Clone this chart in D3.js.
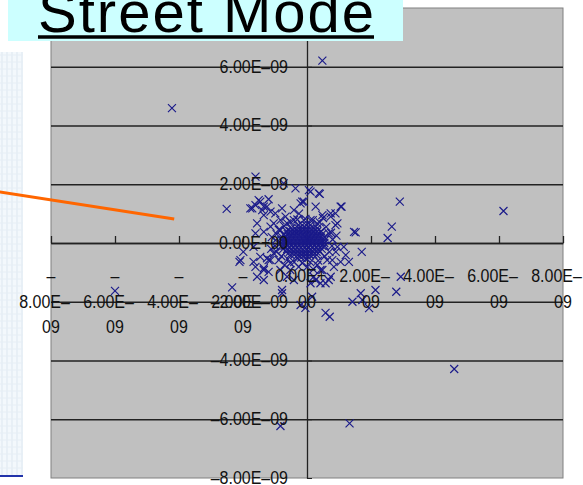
<!DOCTYPE html>
<html>
<head>
<meta charset="utf-8">
<script src="https://cdn.jsdelivr.net/npm/d3@7"></script>
<style>
    body { margin: 0; background: #fff; }
    svg { display: block; font-family: "Liberation Sans", Arial, sans-serif; }
</style>
</head>
<body>
<svg id="chart" width="583" height="485"></svg>
<script>
// values are in units of 1e-9
const UNIT = 1e-9;

const xTicks = [-8, -6, -4, -2, 0, 2, 4, 6, 8];
const yTicks = [-8, -6, -4, -2, 0, 2, 4, 6, 8];

// x tick labels as Excel wrapped them
const xTickLines = [
    ["–", "8.00E–", "09"],
    ["–", "6.00E–", "09"],
    ["–", "4.00E–", "09"],
    ["–", "2.00E–", "09"],
    ["0.00E+", "00"],
    ["2.00E–", "09"],
    ["4.00E–", "09"],
    ["6.00E–", "09"],
    ["8.00E–", "09"]
];
const yTickLabels = ["–8.00E–09", "–6.00E–09", "–4.00E–09", "–2.00E–09", "0.00E+00",
    "2.00E–09", "4.00E–09", "6.00E–09", "8.00E–09"];

// scattered points [x, y]
const outerPoints = [
    [-4.22, 4.59], [0.48, 6.21], [6.14, 1.09], [2.9, 1.41], [2.65, 0.56], [2.52, 0.17],
    [4.6, -4.29], [1.33, -6.14], [-0.83, -6.23], [-6.0, -1.63], [-2.34, -1.51],
    [-2.51, 1.16], [-1.61, 2.26], [-0.73, 2.03]
];
const haloPoints = [
    [1.71, -0.3], [1.31, -0.64], [2.93, -1.15], [2.79, -1.66], [2.14, -1.6], [1.68, -1.71],
    [1.42, -2.0], [1.94, -2.22], [1.73, -1.94], [0.71, -2.51], [0.58, -2.38], [0.68, -1.26],
    [0.42, -1.37], [-0.05, -2.21], [-0.2, -2.11], [0.16, -1.83],
    [-1.25, -0.52], [-2.11, -0.64], [-1.67, -0.64], [-1.35, -0.86], [-1.56, -1.15],
    [-1.35, -1.26], [-0.78, -1.71], [-1.99, -0.3], [-1.61, 0.33], [-0.83, -0.92], [-1.14, -0.58],
    [1.47, 0.38], [1.05, 1.24], [0.37, 1.69], [0.06, 1.8], [-0.36, 1.86], [-0.15, 1.41],
    [-1.77, 1.18], [-1.46, 1.41], [-1.14, 1.07], [-1.35, 1.24], [-0.67, 0.9], [-1.04, 0.67],
    [-0.83, 0.44], [0.74, 0.9], [0.95, 0.67], [1.15, -0.13], [1.21, -0.41], [-2.08, -0.58],
    [-1.61, -0.81], [-1.35, -0.92], [-1.2, -0.58], [0.84, -0.81], [1.05, -0.64], [0.42, -0.92],
    [0.11, -1.37], [0.21, -1.15], [-0.41, -1.26], [-0.52, -0.92],
    [-1.71, 1.18], [-1.51, 1.46], [-1.2, 1.49], [-1.4, 1.12], [0.11, 1.75], [0.4, 1.67],
    [1.08, 1.24], [1.52, 0.36], [0.89, 1.01], [-0.1, 1.41],
    [-1.61, 1.29], [-1.25, 1.24], [-0.99, 1.01], [-1.35, 0.95], [-0.78, 1.18], [-0.41, 1.12],
    [-0.2, 1.35], [0.27, 1.24], [0.48, 0.95], [0.74, 1.01], [0.89, 0.61], [0.68, 0.33],
    [0.95, -0.13], [0.79, -0.58], [0.74, -1.15], [0.58, -1.37], [0.48, -0.92], [-0.26, -0.81],
    [-0.52, -0.69], [-0.88, -0.58], [-1.46, -0.47], [-1.2, -0.98], [-0.78, -1.6], [-0.62, -1.15],
    [-1.35, 0.38], [-1.14, 0.56], [-0.83, 0.78], [-1.56, 0.67], [-1.67, -0.13], [-1.04, -0.35],
    [0.11, 0.78], [-0.1, 0.78], [0.32, 0.67], [-0.41, 0.78], [-0.62, 0.67], [0.63, -0.58],
    [0.32, -0.75], [0.01, -0.81], [0.27, -1.26]
];
// ring just outside the solid core
const ringPoints = [
    [-0.95, 0.3], [-0.98, 0.1], [-1.0, -0.1], [-0.95, -0.3], [-0.8, -0.45], [-0.6, -0.55],
    [-0.4, -0.65], [-0.15, -0.68], [0.1, -0.65], [0.35, -0.6], [0.55, -0.45], [0.7, -0.3],
    [0.78, -0.1], [0.8, 0.12], [0.75, 0.35], [0.6, 0.55], [0.4, 0.7], [0.18, 0.78],
    [-0.05, 0.82], [-0.3, 0.8], [-0.52, 0.72], [-0.72, 0.58], [-0.88, 0.45], [-1.1, 0.2],
    [-1.12, -0.2], [0.92, 0.25], [0.9, -0.3], [-0.7, -0.75], [0.2, -0.9], [-0.25, 1.0], [0.5, 0.85]
];
// dense core near the origin, one row per y value
const coreRows = [
    { y: 0.6, xs: [-0.28, -0.15, -0.02, 0.1] },
    { y: 0.5, xs: [-0.5, -0.38, -0.26, -0.14, -0.02, 0.1, 0.22, 0.32] },
    { y: 0.4, xs: [-0.64, -0.52, -0.4, -0.28, -0.16, -0.04, 0.08, 0.2, 0.32, 0.44] },
    { y: 0.3, xs: [-0.72, -0.6, -0.48, -0.36, -0.24, -0.12, 0, 0.12, 0.24, 0.36, 0.48] },
    { y: 0.2, xs: [-0.78, -0.66, -0.54, -0.42, -0.3, -0.18, -0.06, 0.06, 0.18, 0.3, 0.42, 0.54] },
    { y: 0.1, xs: [-0.8, -0.7, -0.6, -0.48, -0.36, -0.24, -0.12, 0, 0.12, 0.24, 0.36, 0.48, 0.56] },
    { y: 0.0, xs: [-0.82, -0.66, -0.54, -0.42, -0.3, -0.18, -0.06, 0.06, 0.18, 0.3, 0.42, 0.54] },
    { y: -0.1, xs: [-0.8, -0.7, -0.6, -0.48, -0.36, -0.24, -0.12, 0, 0.12, 0.24, 0.36, 0.48, 0.55] },
    { y: -0.2, xs: [-0.74, -0.62, -0.5, -0.38, -0.26, -0.14, -0.02, 0.1, 0.22, 0.34, 0.46] },
    { y: -0.3, xs: [-0.66, -0.54, -0.42, -0.3, -0.18, -0.06, 0.06, 0.18, 0.3, 0.4] },
    { y: -0.4, xs: [-0.52, -0.4, -0.28, -0.16, -0.04, 0.08, 0.2, 0.3] },
    { y: -0.5, xs: [-0.3, -0.18, -0.06, 0.06] }
];

// orange pointer line (data coords), starts off the plot on the left
const pointerLine = [[-9.6, 1.74], [-4.15, 0.82]];

const titleText = "Street Mode";

// ---------------------------------------------------------------

const svg = d3.select("#chart");
const plot = { left: 51, right: 563, top: 8, bottom: 478 };

const x = d3.scaleLinear().domain([-8 * UNIT, 8 * UNIT]).range([plot.left, plot.right]);
const y = d3.scaleLinear().domain([-8 * UNIT, 8 * UNIT]).range([plot.bottom, plot.top]);

// faint slide background strip on the left
const strip = svg.append("g");
strip.append("rect").attr("x", 0).attr("y", 52).attr("width", 23).attr("height", 423)
    .attr("fill", "#f3f8fc");
d3.range(2, 23, 5).forEach(function(sx) {
    strip.append("line").attr("x1", sx).attr("x2", sx).attr("y1", 52).attr("y2", 475)
        .attr("stroke", "#dde7f0").attr("stroke-width", 1);
});
d3.range(55, 475, 7).forEach(function(sy) {
    strip.append("line").attr("x1", 0).attr("x2", 23).attr("y1", sy).attr("y2", sy)
        .attr("stroke", "#e6eef5").attr("stroke-width", 1);
});
strip.append("line").attr("x1", 0).attr("x2", 23).attr("y1", 476).attr("y2", 476)
    .attr("stroke", "#2233aa").attr("stroke-width", 2);

// plot area
svg.append("rect")
    .attr("x", plot.left).attr("y", plot.top)
    .attr("width", plot.right - plot.left).attr("height", plot.bottom - plot.top)
    .attr("fill", "#c0c0c0").attr("stroke", "#808080").attr("stroke-width", 1);

// horizontal gridlines
const grid = svg.append("g")
    .attr("transform", "translate(" + plot.left + ",0)")
    .call(d3.axisLeft(y).tickValues(yTicks.filter(d => Math.abs(d) < 8).map(d => d * UNIT))
        .tickSize(-(plot.right - plot.left)).tickFormat(""));
grid.select(".domain").remove();
grid.selectAll(".tick line").attr("stroke", "#222").attr("stroke-width", 1.6);

// y axis through x = 0
const yAxis = svg.append("g")
    .attr("transform", "translate(" + x(0) + ",0)")
    .call(d3.axisRight(y).tickValues(yTicks.map(d => d * UNIT)).tickSize(5).tickSizeOuter(0).tickFormat(""));
yAxis.select(".domain").attr("stroke", "#222").attr("stroke-width", 1.3);
yAxis.selectAll(".tick line").attr("stroke", "#222");

// x axis through y = 0, ticks pointing up
const xAxis = svg.append("g")
    .attr("transform", "translate(0," + y(0) + ")")
    .call(d3.axisTop(x).tickValues(xTicks.map(d => d * UNIT)).tickSize(7).tickSizeOuter(0).tickFormat(""));
xAxis.select(".domain").attr("stroke", "#222").attr("stroke-width", 1.6);
xAxis.selectAll(".tick line").attr("stroke", "#222").attr("stroke-width", 1.3);

// points
const points = outerPoints.concat(haloPoints, ringPoints);
coreRows.forEach(function(row) {
    row.xs.forEach(function(v) { points.push([v, row.y]); });
});
const cross = "M-4,-4L4,4M-4,4L4,-4";
svg.append("g").selectAll("path")
    .data(points)
    .enter()
    .append("path")
    .attr("d", cross)
    .attr("transform", d => "translate(" + x(d[0] * UNIT) + "," + y(d[1] * UNIT) + ")")
    .attr("fill", "none")
    .attr("stroke", "#1a1a8a")
    .attr("stroke-width", 1.15);

// y tick labels
svg.append("g").selectAll("text")
    .data(yTicks)
    .enter()
    .append("text")
    .attr("transform", d => "translate(" + (x(0) - 19) + "," + y(d * UNIT) + ") scale(1,1.12)")
    .attr("text-anchor", "end")
    .attr("dominant-baseline", "central")
    .attr("font-size", 16)
    .attr("fill", "#111")
    .text((d, i) => yTickLabels[i]);

// x tick labels, wrapped on several lines
const lineY = [276, 302, 327];
const xl = svg.append("g").selectAll("g")
    .data(xTicks)
    .enter()
    .append("g");
xl.each(function(d, i) {
    const g = d3.select(this);
    xTickLines[i].forEach(function(line, j) {
        const wide = line.indexOf("E") >= 0;
        g.append("text")
            .attr("transform", "translate(" + (x(d * UNIT) + (wide ? -6.5 : 0)) + "," + lineY[j] + ") scale(1,1.12)")
            .attr("text-anchor", "middle")
            .attr("dominant-baseline", "central")
            .attr("font-size", 16)
            .attr("fill", "#111")
            .text(line);
    });
});

// orange pointer
svg.append("line")
    .attr("x1", x(pointerLine[0][0] * UNIT)).attr("y1", y(pointerLine[0][1] * UNIT))
    .attr("x2", x(pointerLine[1][0] * UNIT)).attr("y2", y(pointerLine[1][1] * UNIT))
    .attr("stroke", "#ff6600").attr("stroke-width", 3);

// title box
svg.append("rect").attr("x", 8).attr("y", 0).attr("width", 395).attr("height", 41)
    .attr("fill", "#ccffff");
svg.append("text")
    .attr("x", 38).attr("y", 32)
    .attr("font-size", 58)
    .attr("textLength", 336)
    .attr("lengthAdjust", "spacing")
    .attr("fill", "#000")
    .text(titleText);
svg.append("line").attr("x1", 38).attr("x2", 374).attr("y1", 37).attr("y2", 37)
    .attr("stroke", "#000").attr("stroke-width", 3.5);
</script>
</body>
</html>
